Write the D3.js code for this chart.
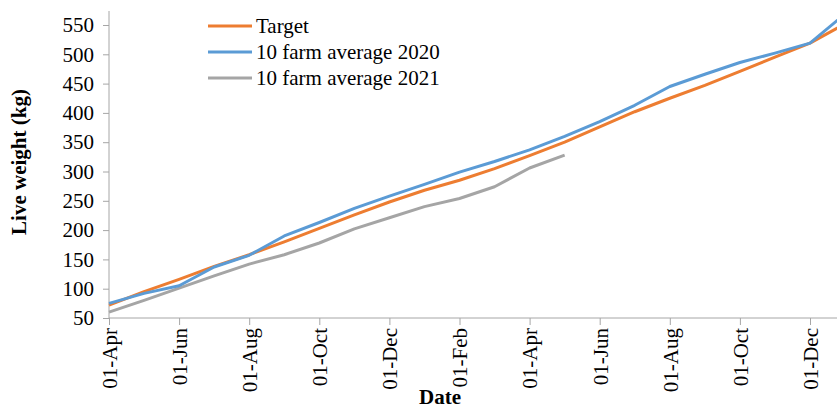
<!DOCTYPE html>
<html>
<head>
<meta charset="utf-8">
<script src="https://cdn.jsdelivr.net/npm/d3@7"></script>
<style>
  body { margin: 0; background: #fff; }
  svg text { font-family: "Liberation Serif", "Times New Roman", Times, "DejaVu Serif", serif; }
</style>
</head>
<body>
<div id="chart"></div>
<script>
// data (one value per month, Apr 2020 .. Jan 2022)
var months = ["Apr","May","Jun","Jul","Aug","Sep","Oct","Nov","Dec","Jan","Feb","Mar",
              "Apr","May","Jun","Jul","Aug","Sep","Oct","Nov","Dec","Jan"];
var target = [72, 95, 116, 138, 158, 180, 203, 226, 248, 268, 285, 305,
              327, 350, 376, 402, 425, 447, 471, 495, 519, 552];
var avg2020 = [75, 92, 105, 137, 157, 190, 213, 237, 258, 278, 299, 317,
               337, 360, 385, 413, 445, 466, 486, 502, 519, 569];
var avg2021 = [60, 80, 101, 122, 142, 158, 178, 202, 221, 240, 254, 274, 306, 328];
var yTicks = [50, 100, 150, 200, 250, 300, 350, 400, 450, 500, 550];
var seriesNames = ["Target", "10 farm average 2020", "10 farm average 2021"];

var W = 837, H = 410;
var x0 = 109, y0 = 318;
var serif = "Liberation Serif, Times New Roman, serif";

var svg = d3.select("#chart")
  .append("svg")
    .attr("width", W)
    .attr("height", H)
    .attr("font-family", serif);

// scales
var x = d3.scaleLinear()
  .domain([0, 20])
  .range([x0, 810]);
var y = d3.scaleLinear()
  .domain([50, 550])
  .range([y0, 25]);

var axisColor = "#a6a6a6";

// Y axis
var yAxis = svg.append("g")
  .attr("transform", "translate(" + x0 + ",0)")
  .call(d3.axisLeft(y).tickValues(yTicks).tickSize(6).tickPadding(9).tickSizeOuter(0))
  .attr("font-family", serif)
  .attr("font-size", 21);
yAxis.select(".domain").attr("d", "M0," + y0 + "V11").attr("stroke", axisColor);
yAxis.selectAll(".tick line").attr("stroke", axisColor);
yAxis.selectAll(".tick text").attr("fill", "#000");

// X axis (labels every second month)
var xIdx = d3.range(0, 21, 2);
var xAxis = svg.append("g")
  .attr("transform", "translate(0," + y0 + ")")
  .call(d3.axisBottom(x).tickValues(xIdx).tickSize(7).tickSizeOuter(0)
    .tickFormat(function(i) { return "01-" + months[i]; }))
  .attr("font-family", serif)
  .attr("font-size", 21);
xAxis.select(".domain").attr("d", "M" + x0 + ",0H" + W).attr("stroke", axisColor);
xAxis.selectAll(".tick line").attr("stroke", axisColor);
xAxis.selectAll(".tick text")
  .attr("fill", "#000")
  .attr("text-anchor", "end")
  .attr("transform", "rotate(-90)")
  .attr("x", -10)
  .attr("y", 0)
  .attr("dy", "0.35em");

// lines
var line = d3.line()
  .x(function(d, i) { return x(i); })
  .y(function(d) { return y(d); });

var colors = ["#ed7d31", "#5b9bd5", "#a5a5a5"];
var data = [target, avg2020, avg2021];

// draw order: 2021 under, then target, then 2020 on top
[2, 0, 1].forEach(function(k) {
  svg.append("path")
    .datum(data[k])
    .attr("fill", "none")
    .attr("stroke", colors[k])
    .attr("stroke-width", 3)
    .attr("stroke-linejoin", "round")
    .attr("d", line);
});

// legend
var legend = svg.append("g").attr("font-size", 21);
seriesNames.forEach(function(name, i) {
  var ly = 26 + i * 26;
  legend.append("line")
    .attr("x1", 208).attr("x2", 252)
    .attr("y1", ly).attr("y2", ly)
    .attr("stroke", colors[i])
    .attr("stroke-width", 3);
  legend.append("text")
    .attr("x", 256)
    .attr("y", ly + 7)
    .text(name);
});

// axis titles
svg.append("text")
  .attr("transform", "translate(26,162) rotate(-90)")
  .attr("text-anchor", "middle")
  .attr("font-size", 21)
  .attr("font-weight", "bold")
  .text("Live weight (kg)");

svg.append("text")
  .attr("x", 440)
  .attr("y", 404)
  .attr("text-anchor", "middle")
  .attr("font-size", 21)
  .attr("font-weight", "bold")
  .text("Date");
</script>
</body>
</html>
